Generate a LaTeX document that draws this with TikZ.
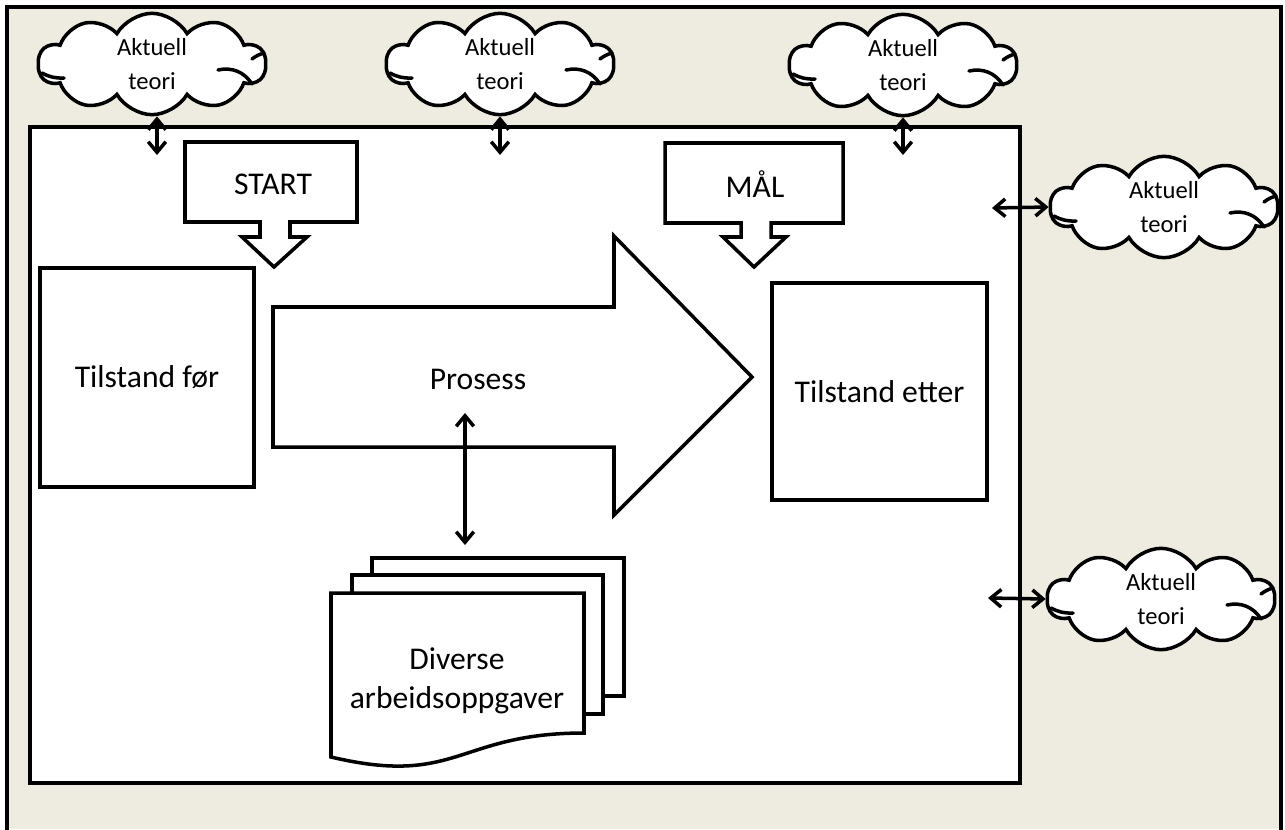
\documentclass[tikz,border=0pt]{standalone}
\usepackage{fontspec}
\setmainfont{Carlito}
\usetikzlibrary{shapes.symbols,arrows.meta}
\definecolor{beige}{HTML}{EEECE1}
\begin{document}
\begin{tikzpicture}[x=0.02cm,y=-0.02cm,line width=2pt,
  box/.style={draw,fill=white,line width=2pt,inner sep=0pt},
  shapeline/.style={draw,fill=white,line width=2pt,line join=miter},
  lbl/.style={font=\fontsize{18}{22}\selectfont,align=center,inner sep=0pt},
  cloudnode/.style={cloud,cloud puffs=10,cloud puff arc=120,aspect=2.6,draw,fill=white,
    line width=2pt,minimum width=4.55cm,minimum height=1.72cm,inner sep=0pt,align=center,
    font=\fontsize{14}{19}\selectfont},
  cloudin/.style={line width=2pt,line cap=round},
  dbl/.style={{Straight Barb[length=6pt,width=10pt]}-{Straight Barb[length=6pt,width=10pt]},line width=2pt}
]
\useasboundingbox (0,0) rectangle (1285,829);
\fill[beige] (7,7) rectangle (1281,829);
% inner white area
\draw[box] (30,127) rectangle (1020,783);
% clouds
\node[cloudnode] (c1) at (152,64) {Aktuell\\teori};
\node[cloudnode] (c2) at (500,64) {Aktuell\\teori};
\node[cloudnode] (c3) at (903,65) {Aktuell\\teori};
\begin{scope}
\clip (0,0) rectangle (1281,829);
\node[cloudnode] (c4) at (1164,207) {Aktuell\\teori};
\node[cloudnode] (c5) at (1161,599) {Aktuell\\teori};
\foreach \c in {c1,c2,c3,c4,c5}{
  \draw[cloudin] ([shift={(-110,9)}]\c.center) to[bend right=15] ([shift={(-88,14)}]\c.center);
  \draw[cloudin] ([shift={(66,6)}]\c.center) to[bend left=35] ([shift={(100,20)}]\c.center);
  \draw[cloudin] ([shift={(100,-5)}]\c.center) to[bend left=10] ([shift={(112,-11)}]\c.center);
}
\end{scope}
% outer border
\draw[line width=2pt] (7,835) -- (7,7) -- (1281,7) -- (1281,835);
% START and MAAL callouts
\draw[shapeline] (185,142) -- (357,142) -- (357,222) -- (290,222) -- (290,237) -- (307,237)
  -- (274,267) -- (242,237) -- (260,237) -- (260,222) -- (185,222) -- cycle;
\node[lbl] (start) at (273,184) {START};
\draw[shapeline] (665,143) -- (843,143) -- (843,223) -- (771,223) -- (771,237) -- (786,237)
  -- (754,267) -- (723,237) -- (741,237) -- (741,223) -- (665,223) -- cycle;
\node[lbl] (maal) at (755,184) {MÅL};
% states
\node[box,lbl,draw,minimum width=4.28cm,minimum height=4.38cm] (before) at (147,377.5) {Tilstand før};
\node[box,lbl,draw,minimum width=4.3cm,minimum height=4.34cm] (after) at (879.5,391.5) {Tilstand etter};
% process arrow
\draw[shapeline] (273,307) -- (614,307) -- (614,236) -- (752,377) -- (614,515) -- (614,447)
  -- (273,447) -- cycle;
\node[lbl] (proc) at (478,379) {Prosess};
% documents
\draw[shapeline] (372,558) rectangle (624,696);
\draw[shapeline] (352,575) rectangle (603,714);
\draw[shapeline] (331,593) -- (584,593) -- (584,733) .. controls (457.5,733) and (457.5,787) .. (331,757) -- cycle;
\node[lbl] (docs) at (457,681) {Diverse\\arbeidsoppgaver};
% connectors
\coordinate (a1) at (157,155);
\coordinate (a2) at (500,155);
\coordinate (a3) at (903,155);
\coordinate (a4) at (992,208);
\coordinate (a5) at (988,598);
\coordinate (pt) at (465,413);
\coordinate (pb) at (465,545);
\draw[dbl] (c1.south -| a1) -- (a1);
\draw[dbl] (c2.south) -- (a2);
\draw[dbl] (c3.south) -- (a3);
\draw[dbl] (a4) -- (c4.west);
\draw[dbl] (a5) -- (c5.west);
\draw[dbl] (pt) -- (pb);
\end{tikzpicture}
\end{document}
